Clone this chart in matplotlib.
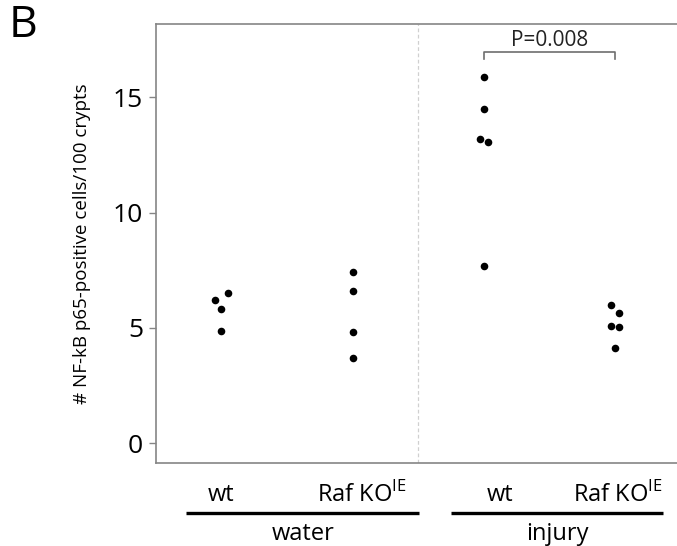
import numpy as np
import matplotlib.pyplot as plt

plt.rcParams['font.family'] = ['Open Sans', 'DejaVu Sans']

# group positions and measured values
groups = ["wt", r"Raf KO$^{\mathregular{IE}}$", "wt", r"Raf KO$^{\mathregular{IE}}$"]
water_wt = [6.19, 5.83, 6.50, 4.87]
water_wt_x = [-0.045, 0.0, 0.05, 0.0]
water_ko = [7.42, 6.61, 4.81, 3.70]
water_ko_x = [0.0, 0.0, 0.0, 0.0]
injury_wt = [15.86, 14.48, 13.19, 13.04, 7.68]
injury_wt_x = [0.0, 0.0, -0.03, 0.03, 0.0]
injury_ko = [5.97, 5.64, 5.09, 5.04, 4.12]
injury_ko_x = [-0.03, 0.03, -0.03, 0.03, 0.0]
treatments = ["water", "injury"]
p_label = "P=0.008"

fig = plt.figure(figsize=(6.77, 5.46), dpi=100)
ax = fig.add_axes([0.230, 0.1515, 0.776, 0.8045])

series = [(water_wt, water_wt_x), (water_ko, water_ko_x),
          (injury_wt, injury_wt_x), (injury_ko, injury_ko_x)]
for i, (vals, dx) in enumerate(series):
    x = i + 1 + np.array(dx)
    ax.scatter(x, vals, s=30, color="black", zorder=3, linewidths=0)

ax.set_xlim(0.5, 4.5)
ax.set_ylim(-0.87, 18.17)
ax.set_yticks([0, 5, 10, 15])
ax.set_xticks([])
for s in ["left", "top", "bottom"]:
    ax.spines[s].set_color("#858585")
    ax.spines[s].set_linewidth(1.2)
ax.spines["right"].set_visible(False)
ax.tick_params(axis="y", length=5, width=1, color="#858585", labelsize=19, pad=4)
ax.set_ylabel("# NF-kB p65-positive cells/100 crypts", fontsize=13.5, labelpad=16)

# separator between treatments
ax.axvline(2.5, color="#d0d0d0", lw=0.9, ls=(0, (3, 2)))

# significance bracket
ax.plot([3, 3, 4, 4], [16.65, 16.96, 16.96, 16.65], color="#6e6e6e", lw=1.2)
ax.text(3.5, 16.98, p_label, ha="center", va="bottom", fontsize=15, color="#222222")

# group labels below the axis
label_x = [1.0, 2.07, 3.12, 4.02]
for x, g in zip(label_x, groups):
    ax.text(x, -2.24, g, ha="center", va="center", fontsize=17, clip_on=False)
spans = [(0.733, 2.508), (2.751, 4.366)]
for (a, b), t in zip(spans, treatments):
    ax.plot([a, b], [-3.02, -3.02], color="black", lw=2.4, clip_on=False,
            solid_capstyle="butt")
    ax.text((a + b) / 2, -3.93, t, ha="center", va="center", fontsize=17, clip_on=False)

fig.text(0.034, 0.952, "B", fontsize=32, ha="center", va="center")

fig.savefig("out.png", dpi=100)
